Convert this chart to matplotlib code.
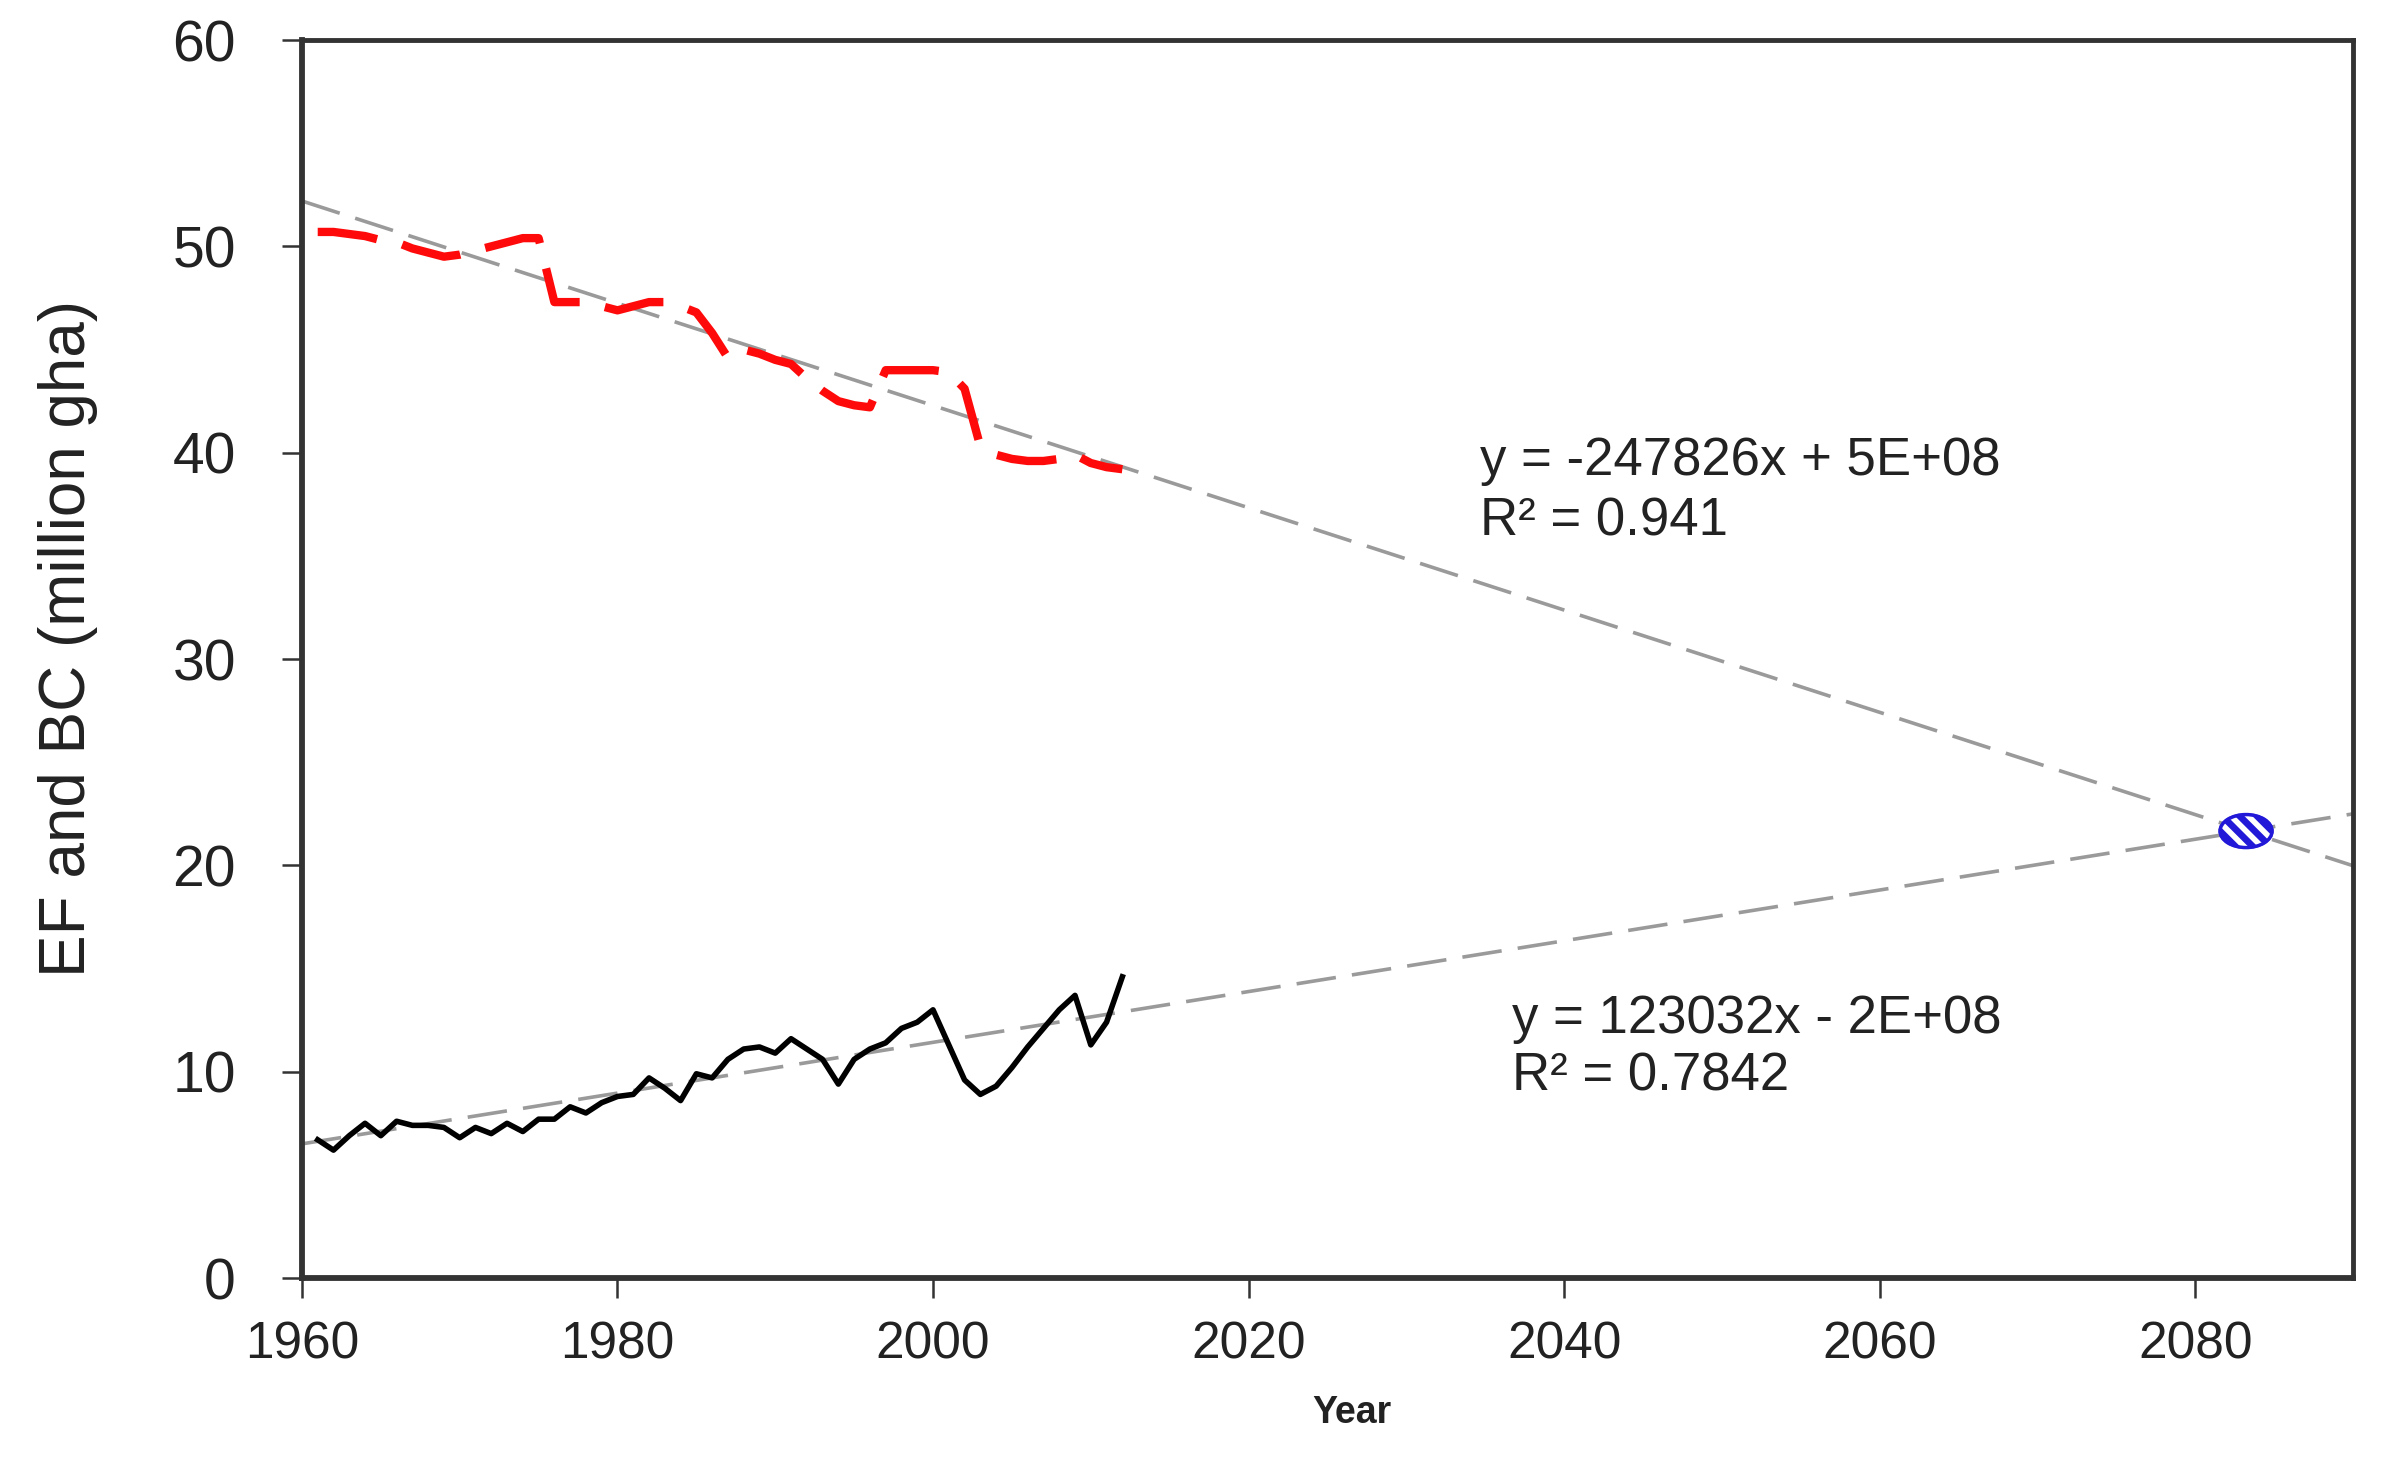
import numpy as np
import matplotlib
matplotlib.use("Agg")
import matplotlib.pyplot as plt
from matplotlib.patches import Ellipse

plt.rcParams['font.family'] = ['Liberation Sans', 'DejaVu Sans']

# yearly values (million gha)
years = np.arange(1961, 2013)
ef = [50.7, 50.7, 50.6, 50.5, 50.3, 50.2, 49.9, 49.7, 49.5, 49.6,
      49.8, 50.0, 50.2, 50.4, 50.4, 47.3, 47.3, 47.3, 47.1, 46.9,
      47.1, 47.3, 47.3, 47.1, 46.8, 45.8, 44.6, 45.0, 44.8, 44.5,
      44.3, 43.6, 43.0, 42.5, 42.3, 42.2, 44.0, 44.0, 44.0, 44.0,
      43.9, 43.1, 40.3, 39.9, 39.7, 39.6, 39.6, 39.7, 39.9, 39.5,
      39.3, 39.2]
bc = [6.7, 6.2, 6.9, 7.5, 6.9, 7.6, 7.4, 7.4, 7.3, 6.8,
      7.3, 7.0, 7.5, 7.1, 7.7, 7.7, 8.3, 8.0, 8.5, 8.8,
      8.9, 9.7, 9.2, 8.6, 9.9, 9.7, 10.6, 11.1, 11.2, 10.9,
      11.6, 11.1, 10.6, 9.4, 10.6, 11.1, 11.4, 12.1, 12.4, 13.0,
      11.3, 9.6, 8.9, 9.3, 10.2, 11.2, 12.1, 13.0, 13.7, 11.3,
      12.4, 14.6]

# linear trends (slope from the labels, intercept)
ef_slope, ef_icpt = -0.247826, 537.94
bc_slope, bc_icpt = 0.123032, -234.64
ef_label = ["y = -247826x + 5E+08", "R\u00b2 = 0.941"]
bc_label = ["y = 123032x - 2E+08", "R\u00b2 = 0.7842"]

fig = plt.figure(figsize=(23.83, 14.67), dpi=100)
ax = fig.add_axes([0.1267, 0.1288, 0.8607, 0.8439])

xt = np.array([1960, 2090])
gray = '#9a9a9a'
ax.plot(xt, ef_slope * xt + ef_icpt, color=gray, lw=2.6, dashes=(11, 4.5), zorder=2)
ax.plot(xt, bc_slope * xt + bc_icpt, color=gray, lw=2.6, dashes=(11, 4.5), zorder=2)

ax.plot(years, ef, color='#ff0a0a', lw=6, dashes=(7.2, 3.1), zorder=3)
ax.plot(years, bc, color='black', lw=4, zorder=3)

# crossing point of the two trends, blue ellipse with white stripes
xc = (ef_icpt - bc_icpt) / (bc_slope - ef_slope)
yc = ef_slope * xc + ef_icpt
blue = '#2218d8'
ell = Ellipse((xc, yc), 3.3, 1.6, facecolor=blue, edgecolor=blue, lw=2, zorder=5)
ax.add_patch(ell)
for off in (-1.1, 0.0, 1.1):
    st, = ax.plot([xc + off - 1.9, xc + off + 1.9], [yc + 1.45, yc - 1.45],
                  color='white', lw=4, zorder=6, solid_capstyle='butt')
    st.set_clip_path(ell)
ax.add_patch(Ellipse((xc, yc), 3.3, 1.6, fill=False, edgecolor=blue, lw=2.5, zorder=7))

tkw = dict(fontsize=38, color='#222222', va='baseline')
ax.text(2034.7, 38.9, ef_label[0], **tkw)
ax.text(2034.7, 36.0, ef_label[1], **tkw)
ax.text(2036.7, 11.9, bc_label[0], **tkw)
ax.text(2036.7, 9.1, bc_label[1], **tkw)

ax.set_xlim(1960, 2090)
ax.set_ylim(0, 60)
ax.set_xticks(range(1960, 2081, 20))
ax.set_yticks(range(0, 61, 10))

for s in ax.spines.values():
    s.set_linewidth(3.5)
    s.set_color('#333333')
ax.spines['left'].set_linewidth(4.2)
ax.spines['bottom'].set_linewidth(4.2)

ax.tick_params(axis='both', direction='out', length=14.5, width=1.8, color='#333333')
ax.tick_params(axis='y', labelsize=41, pad=33, labelcolor='#222222')
ax.tick_params(axis='x', labelsize=37, pad=16, labelcolor='#222222')

ax.set_ylabel('EF and BC (million gha)', fontsize=46, color='#222222', va='center')
ax.yaxis.set_label_coords(-0.114, 0.517)
ax.set_xlabel('Year', fontsize=27, fontweight='bold', color='#222222')
ax.xaxis.set_label_coords(0.512, -0.117)
ax.xaxis.label.set_va('baseline')

fig.savefig('out.png', dpi=100)
